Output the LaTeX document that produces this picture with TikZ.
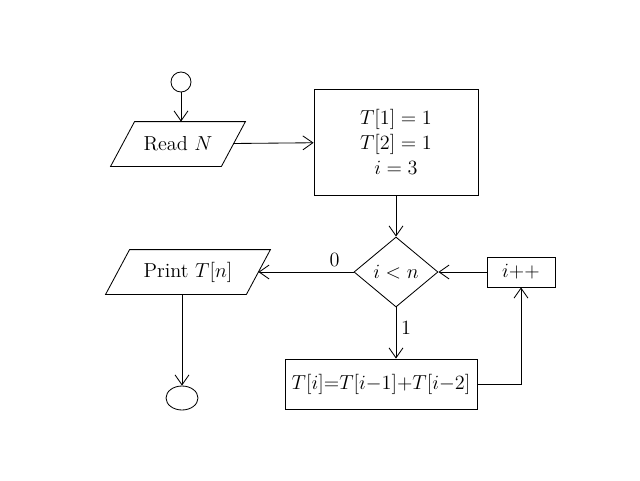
\documentclass[tikz,border=0pt]{standalone}
\usepackage{tikz}
\usetikzlibrary{arrows.meta,shapes.geometric,positioning}

\begin{document}
\begin{tikzpicture}[
    line width=0.6pt,
    flow/.style={-{Straight Barb[length=2.5mm,width=3.5mm]}},
    term/.style={draw, ellipse, inner sep=0pt},
    io/.style={rectangle, minimum height=1.1cm, font=\Large,
        append after command={\pgfextra{\draw ([xshift=0.3cm]\tikzlastnode.north west) -- ([xshift=0.3cm]\tikzlastnode.north east)
            -- ([xshift=-0.3cm]\tikzlastnode.south east) -- ([xshift=-0.3cm]\tikzlastnode.south west) -- cycle;}}},
    proc/.style={draw, rectangle, align=center, font=\Large},
    test/.style={draw, diamond, inner sep=0pt, minimum width=2.1cm, minimum height=1.75cm, font=\Large}
]
    \useasboundingbox (0,0) rectangle (16,12);
    % Terminals
    \node[term, minimum width=0.5cm, minimum height=0.5cm] (start) at (4.525,9.95) {};
    \node[term, minimum width=0.8cm, minimum height=0.6cm] (stop) at (4.55,2.05) {};
    % Input / output
    \node[io, minimum width=2.75cm] (read) at (4.45,8.4) {Read $N$};
    \node[io, minimum width=3.5cm] (print) at (4.7,5.2) {Print $T[n]$};
    % Processing
    \node[proc, minimum width=4.1cm, minimum height=2.65cm] (init) at (9.9,8.45) {$T[1]=1$\\$T[2]=1$\\$i=3$};
    \node[test] (cond) at (9.9,5.2) {$i<n$};
    \node[proc, minimum width=1.7cm, minimum height=0.75cm] (inc) at (13.025,5.2) {$i{+}{+}$};
    \node[proc, minimum width=4.8cm, minimum height=1.25cm] (calc) at (9.525,2.4) {$T[i]{=}T[i{-}1]{+}T[i{-}2]$};
    % Arrows
    \draw[flow] (start) -- (start |- read.north);
    \draw[flow] (read) -- (init);
    \draw[flow] (init) -- (cond);
    \draw[flow] (cond) -- node[above, pos=0.2, font=\Large] {0} (print);
    \draw[flow] (cond) -- node[right, pos=0.4, font=\Large] {1} (cond |- calc.north);
    \draw[flow] (inc) -- (cond);
    \draw[flow] (calc.east) -| (inc.south);
    \draw[flow] (stop |- print.south) -- (stop);
\end{tikzpicture}
\end{document}
